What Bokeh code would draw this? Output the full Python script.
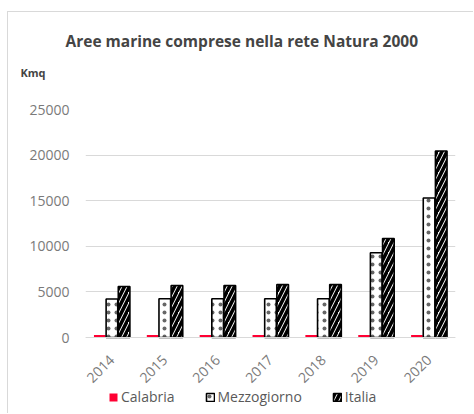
import math
from bokeh.plotting import figure
from bokeh.models import ColumnDataSource, Legend, LegendItem, Title, FactorRange, Range1d, FixedTicker, NumeralTickFormatter
from bokeh.transform import dodge
from bokeh.embed import file_html
from bokeh.resources import INLINE

years = ["2014", "2015", "2016", "2017", "2018", "2019", "2020"]
calabria = [280, 280, 280, 280, 280, 280, 280]
mezzogiorno = [4220, 4250, 4250, 4250, 4250, 9300, 15300]
italia = [5600, 5700, 5700, 5800, 5800, 10850, 20450]
y_ticks = [0, 5000, 10000, 15000, 20000, 25000]
series_names = ["Calabria", "Mezzogiorno", "Italia"]
title_text = "Aree marine comprese nella rete Natura 2000"
unit_text = "Kmq"

src = ColumnDataSource(dict(year=years, cal=calabria, mez=mezzogiorno, ita=italia))

FONT = "Open Sans"
# frame: top 109 .. bottom 414 (page px); value 0 sits 77px above the frame bottom
y_top = 25000
y_bottom = -77 * y_top / 228.0
p = figure(width=466, height=402, x_range=FactorRange(*years), y_range=Range1d(y_bottom, y_top),
           output_backend="svg", toolbar_location=None,
           min_border_left=77, min_border_right=19, min_border_top=97, min_border_bottom=0)
p.margin = (11, 0, 0, 7)
p.styles = {"border-left": "1px solid #d9d9d9", "border-top": "1px solid #d9d9d9"}
p.background_fill_color = "white"
p.border_fill_color = "white"
p.outline_line_color = None

w = 0.22
r_cal = p.vbar(x=dodge("year", -0.23, range=p.x_range), top="cal", width=w, source=src,
               fill_color="#ff0033", line_color=None)
r_mez = p.vbar(x=dodge("year", 0.0, range=p.x_range), top="mez", width=w, source=src,
               fill_color="white", line_color="black", line_width=1.6,
               hatch_pattern=".", hatch_color="#666666", hatch_scale=8, hatch_weight=0.5)
r_ita = p.vbar(x=dodge("year", 0.23, range=p.x_range), top="ita", width=w, source=src,
               fill_color="white", line_color="black", line_width=1.6,
               hatch_pattern="/", hatch_color="black", hatch_scale=10, hatch_weight=3.6)

p.yaxis.ticker = FixedTicker(ticks=y_ticks)
p.yaxis.formatter = NumeralTickFormatter(format="0")
p.yaxis.axis_line_color = None
p.yaxis.major_tick_line_color = None
p.yaxis.minor_tick_line_color = None
p.yaxis.major_label_text_font = FONT
p.yaxis.major_label_text_font_size = "14px"
p.yaxis.major_label_text_color = "#7a7a7a"
p.yaxis.major_label_standoff = 10

p.xaxis.fixed_location = 0
p.xaxis.axis_line_color = "#d9d9d9"
p.xaxis.major_tick_line_color = None
p.xaxis.minor_tick_line_color = None
p.xaxis.major_label_orientation = math.pi / 4
p.xaxis.major_label_text_font = FONT
p.xaxis.major_label_text_font_size = "14px"
p.xaxis.major_label_text_color = "#7a7a7a"
p.xaxis.major_label_standoff = 14

p.xgrid.grid_line_color = None
p.ygrid.ticker = FixedTicker(ticks=y_ticks)
p.ygrid.grid_line_color = "#d9d9d9"
p.ygrid.grid_line_width = 1

legend = Legend(items=[LegendItem(label=series_names[0], renderers=[r_cal]),
                       LegendItem(label=series_names[1], renderers=[r_mez]),
                       LegendItem(label=series_names[2], renderers=[r_ita])],
                orientation="horizontal", location=(23, 8),
                label_text_font=FONT, label_text_font_size="14px", label_text_color="#595959",
                glyph_width=10, glyph_height=10, spacing=30, padding=0, margin=0,
                label_standoff=3, border_line_color=None, background_fill_alpha=0)
p.add_layout(legend)

p.title.text = title_text
p.title.align = "left"
p.title.offset = -20
p.title.text_font = FONT
p.title.text_font_size = "15.5px"
p.title.text_font_style = "bold"
p.title.standoff = 22
spacer = Title(text=" ", align="left", text_font=FONT, text_font_size="11px", standoff=13)
p.add_layout(spacer, "above")
unit_title = Title(text=unit_text, align="left", offset=-65, text_font=FONT,
                   text_font_size="11px", text_font_style="bold", standoff=0)
p.add_layout(unit_title, "above")

open("out.html", "w").write(file_html(p, INLINE))
